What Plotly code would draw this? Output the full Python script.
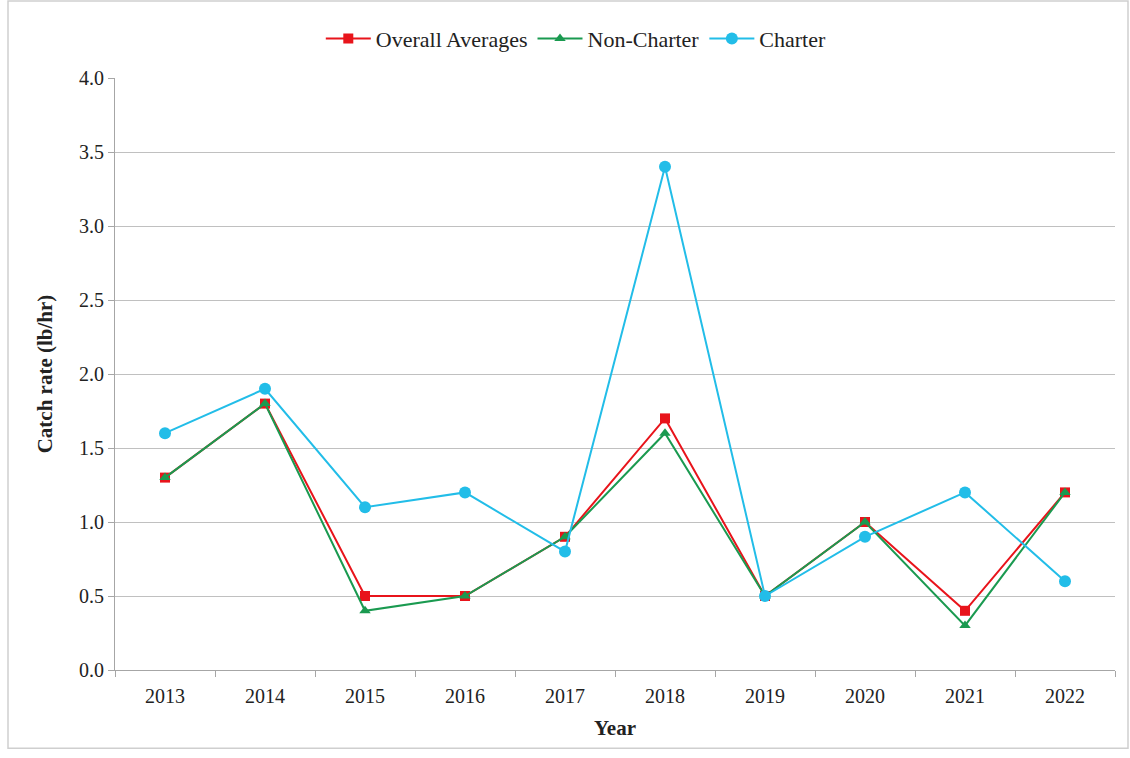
import plotly.graph_objects as go

years = ["2013", "2014", "2015", "2016", "2017", "2018", "2019", "2020", "2021", "2022"]
overall = [1.3, 1.8, 0.5, 0.5, 0.9, 1.7, 0.5, 1.0, 0.4, 1.2]
non_charter = [1.3, 1.8, 0.4, 0.5, 0.9, 1.6, 0.5, 1.0, 0.3, 1.2]
charter = [1.6, 1.9, 1.1, 1.2, 0.8, 3.4, 0.5, 0.9, 1.2, 0.6]

fig = go.Figure()
fig.add_trace(go.Scatter(x=years, y=overall, name="Overall Averages", mode="lines+markers",
                         line=dict(color="#e8141b", width=2),
                         marker=dict(symbol="square", size=10, color="#e8141b")))
fig.add_trace(go.Scatter(x=years, y=non_charter, name="Non-Charter", mode="lines+markers",
                         line=dict(color="#1a9a50", width=2),
                         marker=dict(symbol="triangle-up", size=10, color="#1a9a50")))
fig.add_trace(go.Scatter(x=years, y=charter, name="Charter", mode="lines+markers",
                         line=dict(color="#22bde8", width=2),
                         marker=dict(symbol="circle", size=12, color="#22bde8")))

font_family = "Liberation Serif, Times New Roman, serif"
fig.update_layout(
    width=1130, height=758,
    margin=dict(l=115, r=15, t=78, b=88, autoexpand=False),
    paper_bgcolor="white", plot_bgcolor="white",
    font=dict(family=font_family, size=20, color="#222222"),
    showlegend=True,
    legend=dict(orientation="h", x=0.51, xanchor="center", xref="container",
                y=0.949, yanchor="middle", yref="container",
                font=dict(family=font_family, size=22, color="#222222"),
                traceorder="normal", itemwidth=45, tracegroupgap=0),
    xaxis=dict(
        title=dict(text="<b>Year</b>", font=dict(family=font_family, size=21), standoff=14),
        type="category", range=[-0.5, 9.5], autorange=False,
        showgrid=False, showline=True, linecolor="#a6a6a6", linewidth=1,
        ticks="outside", tickson="boundaries", ticklen=6, tickcolor="#a6a6a6",
        tickfont=dict(family=font_family, size=20), ticklabelstandoff=8, automargin=False,
    ),
    yaxis=dict(
        title=dict(text="<b>Catch rate (lb/hr)</b>", font=dict(family=font_family, size=21), standoff=20),
        range=[0, 4.0], dtick=0.5, tickformat=".1f",
        showgrid=True, gridcolor="#c0c0c0", gridwidth=1,
        showline=True, linecolor="#a6a6a6", linewidth=1,
        ticks="outside", ticklen=6, tickcolor="#a6a6a6",
        tickfont=dict(family=font_family, size=20), zeroline=False, automargin=False,
    ),
    shapes=[dict(type="rect", xref="paper", yref="paper",
                 x0=-0.107, x1=1.013, y0=-0.132, y1=1.13,
                 line=dict(color="#cfcfcf", width=1.5), fillcolor="rgba(0,0,0,0)", layer="below")],
)

fig.write_html("out.html", config={"displayModeBar": False},
               post_script="document.body.style.margin='0';")
